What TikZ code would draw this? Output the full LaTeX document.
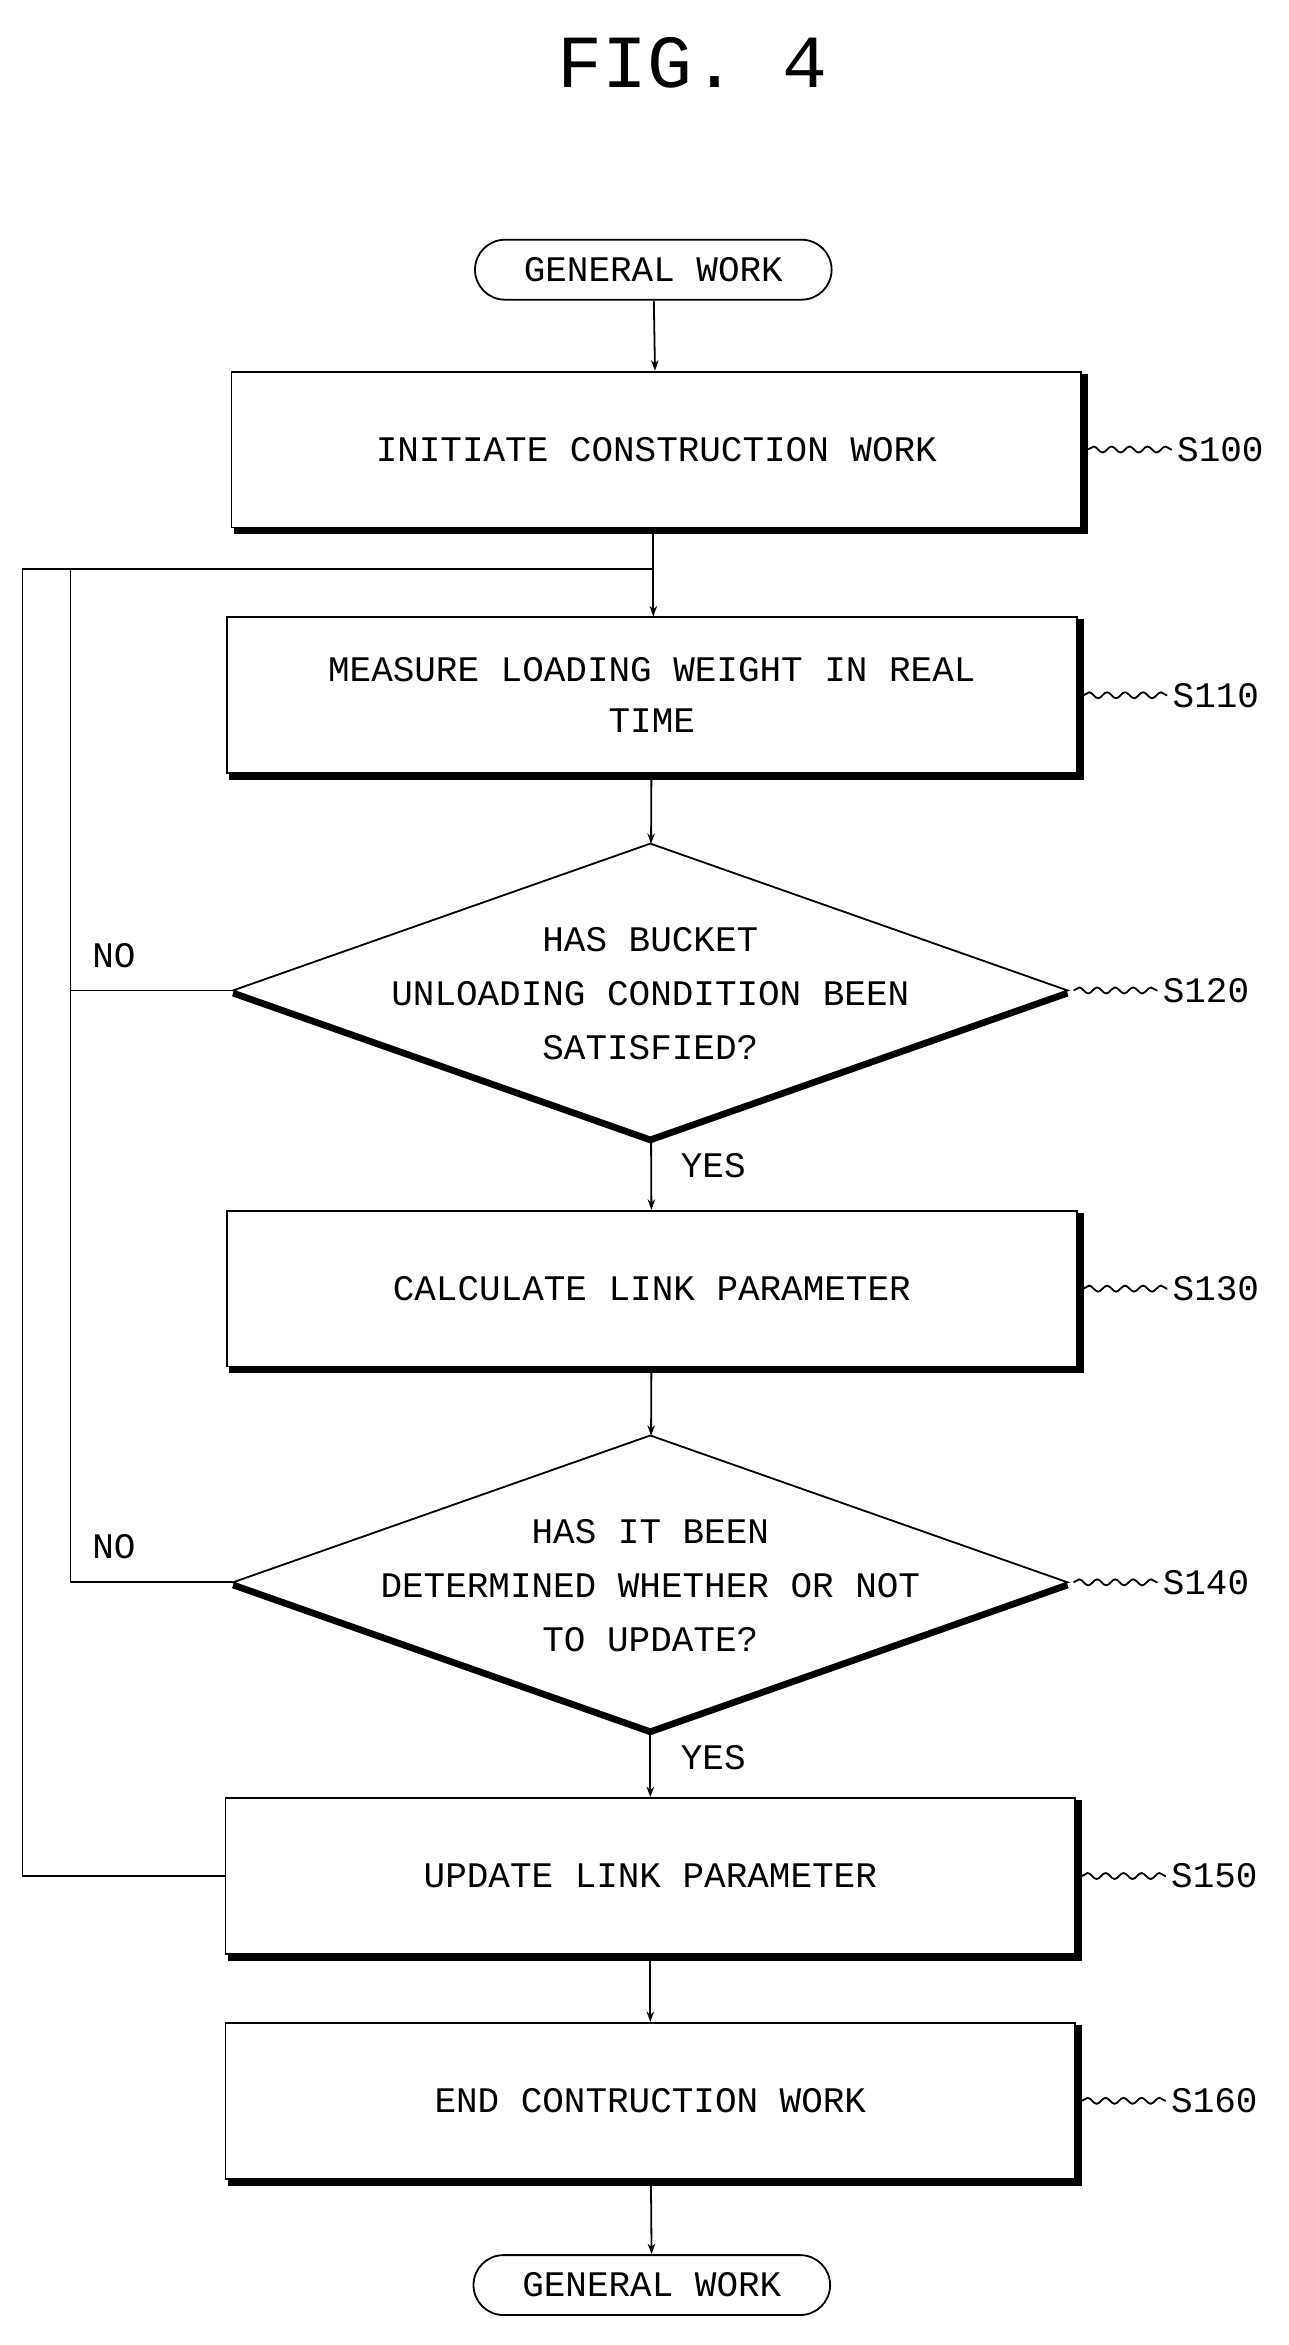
\documentclass[tikz,border=0pt]{standalone}
\usepackage{fontspec}
\setmainfont{Liberation Mono}
\usetikzlibrary{shapes.geometric,arrows.meta,decorations.pathmorphing}
\begin{document}
\begin{tikzpicture}[x=1pt,y=-1pt,
  box/.style={draw,line width=1.2pt,minimum width=567pt,minimum height=104pt,align=center,font=\fontsize{24}{34}\selectfont,inner sep=0},
  term/.style={draw,line width=1.2pt,rounded corners=20pt,minimum width=238pt,minimum height=40pt,font=\fontsize{24}{28}\selectfont,inner sep=0},
  dia/.style={draw,diamond,line width=1.2pt,minimum width=557pt,minimum height=196pt,inner sep=0,outer sep=0},
  dtext/.style={align=center,font=\fontsize{24}{36}\selectfont},
  lab/.style={font=\fontsize{24}{28}\selectfont},
  ln/.style={line width=1.2pt},
  arr/.style={ln,-{Stealth[length=7pt,width=5pt]}},
  sq/.style={ln,decorate,decoration={snake,amplitude=2pt,segment length=12pt}}]
\useasboundingbox (0,0) rectangle (860,1565);
\node[font=\fontsize{50}{56}\selectfont] (title) at (462,42) {FIG. 4};
\node[term] (t1) at (436,180) {GENERAL WORK};
\node[box] (s100) at (438,300) {INITIATE CONSTRUCTION WORK};
\node[box] (s110) at (435,464) {MEASURE LOADING WEIGHT IN REAL\\TIME};
\node[dia] (s120) at (434,661) {};
\node[dtext] (s120t) at (434,663) {HAS BUCKET\\UNLOADING CONDITION BEEN\\SATISFIED?};
\node[box] (s130) at (435,860) {CALCULATE LINK PARAMETER};
\node[dia] (s140) at (434,1056) {};
\node[dtext] (s140t) at (434,1058) {HAS IT BEEN\\DETERMINED WHETHER OR NOT\\TO UPDATE?};
\node[box] (s150) at (434,1252) {UPDATE LINK PARAMETER};
\node[box] (s160) at (434,1402) {END CONTRUCTION WORK};
\node[term] (t2) at (435,1525) {GENERAL WORK};
% shadows
\foreach \n in {s100,s110,s130,s150,s160}
  \draw[line width=4pt] ([shift={(2,2)}]\n.south west) -- ([shift={(2,2)}]\n.south east) -- ([shift={(2,2)}]\n.north east);
\foreach \n in {s120,s140}
  \draw[line width=4pt] ([shift={(0,2)}]\n.west) -- ([shift={(0,2)}]\n.south) -- ([shift={(0,2)}]\n.east);
% labels
\foreach \n/\t in {s100/S100,s110/S110,s120/S120,s130/S130,s140/S140,s150/S150,s160/S160}{
  \node[lab,anchor=west] (l\t) at ([xshift=60pt]\n.east) {\t};
  \draw[sq] ([xshift=4pt]\n.east) -- (l\t.west);
}
% flow
\coordinate (j1) at (436,380);
\coordinate (tl) at (15,380);
\coordinate (bl) at (15,1252);
\coordinate (n1) at (47,661);
\coordinate (n2) at (47,1056);
\coordinate (n0) at (47,380);
\draw[arr] (t1) -- (s100);
\draw[arr] (s100.south -| j1) -- (s110.north -| j1);
\draw[arr] (s110) -- (s120);
\draw[arr] (s120) -- (s130);
\draw[arr] (s130) -- (s140);
\draw[arr] (s140) -- (s150);
\draw[arr] (s150) -- (s160);
\draw[arr] (s160) -- (t2);
\draw[ln] (s150.west) -- (bl) -- (tl) -- (j1);
\draw[ln] (s120.west) -- (n1) -- (n0);
\draw[ln] (s140.west) -- (n2) -- (n1);
\node[lab] (no1) at (76,638) {NO};
\node[lab] (no2) at (76,1032) {NO};
\node[lab] (y1) at (476,778) {YES};
\node[lab] (y2) at (476,1173) {YES};
\end{tikzpicture}
\end{document}
